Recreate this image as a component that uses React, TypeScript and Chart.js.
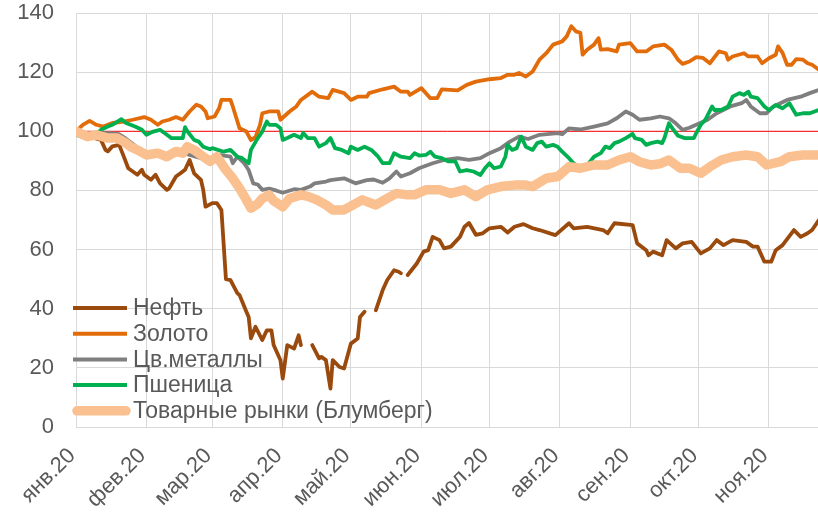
import React, { useEffect, useRef } from "react";
import { Chart, registerables } from "chart.js";

Chart.register(...registerables);

// Month starts (days since 1 Jan 2020) and tick labels
const monthStartDays = [0, 31, 60, 91, 121, 152, 182, 213, 244, 274, 305];
const monthLabels = ["янв.20", "фев.20", "мар.20", "апр.20", "май.20", "июн.20", "июл.20", "авг.20", "сен.20", "окт.20", "ноя.20"];
const xMaxDay = 326.6;
const yTicks = [0, 20, 40, 60, 80, 100, 120, 140];

const seriesNames = ["Нефть", "Золото", "Цв.металлы", "Пшеница", "Товарные рынки (Блумберг)"];

// Нефть (null = gap)
const oilDays = [0, 6, 11, 13, 14, 16, 19, 21, 23, 27, 29, 30, 33, 35, 37, 40, 41, 44, 46, 48, 50, 52, 55, 56, 57, 60, 62, 64, 66, 68, 71, 72, 75, 76, 77, 79, 82, 84, 86, 87, 90, 91, 93, 96, 98, 99, 102, 104, 107, 108, 110, 112, 113, 116, 118, 121, 124, 125, 127, 129, 132, 135, 137, 140, 142, 143, 145, 146, 150, 153, 155, 157, 160, 162, 165, 169, 171, 173, 176, 179, 182, 187, 190, 193, 197, 201, 204, 211, 217, 219, 225, 232, 234, 237, 245, 247, 251, 252, 254, 258, 260, 264, 267, 271, 275, 279, 282, 285, 289, 295, 298, 300, 303, 306, 308, 311, 316, 319, 322, 324, 327];
const oilValues = [100, 98.2, 97.1, 93.7, 93.2, 94.9, 95.4, 91.5, 87.5, 85.3, 87, 85.3, 83.6, 85.3, 82.4, 80.2, 80.7, 84.7, 85.8, 87, 90.3, 85.8, 83.6, 80.2, 74.5, 75.7, 75.7, 73.4, 50, 49.7, 45.3, 44.6, 39, 37.2, 30, 33.9, 29.4, 32.7, 32.7, 27.7, 22.6, 16.4, 27.7, 26.5, 31, 27.7, null, 27.7, 23.2, 23.7, 22.6, 13, 22.6, 20.3, 19.8, 28.2, 29.9, 37.2, 39, null, 39.5, 46.3, 49.7, 53, 52.5, 52, null, 51.4, 55.3, 59.3, 59.8, 64.3, 63.2, 60.4, 61, 64.3, 67.7, 69, 65, 65.5, 67.2, 67.7, 65.8, 67.7, 68.6, 67.2, 66.6, 64.9, 68.9, 67.2, 67.7, 66.6, 65.5, 68.9, 68.3, 62.1, 59.8, 58.1, 59.3, 58.1, 63.2, 60.4, 62.1, 62.6, 58.7, 60.4, 63.2, 61.5, 63.2, 62.6, 61, 61, 55.9, 55.9, 59.8, 61.5, 66.6, 64.3, 65.5, 66.6, 70];

// Золото
const goldDays = [0, 3, 6, 9, 12, 16, 21, 25, 30, 33, 36, 38, 41, 44, 47, 50, 53, 55, 57, 58, 61, 63, 64, 68, 69, 72, 75, 77, 79, 81, 82, 85, 89, 90, 94, 97, 99, 104, 107, 111, 113, 118, 121, 124, 128, 129, 135, 140, 143, 146, 147, 152, 156, 159, 161, 168, 172, 176, 182, 187, 190, 193, 195, 198, 201, 204, 207, 210, 214, 216, 218, 220, 222, 223, 225, 228, 230, 231, 234, 238, 239, 244, 247, 251, 254, 259, 262, 265, 267, 270, 273, 276, 279, 283, 286, 287, 289, 294, 296, 300, 302, 305, 308, 309, 311, 313, 315, 317, 320, 322, 324, 327];
const goldValues = [100, 102.2, 103.5, 102.2, 101.6, 102.8, 103.3, 103.9, 104.8, 103.9, 102.2, 103.3, 103.9, 104.8, 103.9, 106.7, 109, 108.4, 106.7, 104.4, 105, 107.8, 110.6, 110.6, 108.4, 101, 99.9, 97, 98, 102.2, 106.1, 106.7, 106.7, 103.9, 106.7, 108.4, 110.6, 113.4, 111.7, 111.2, 114, 112.9, 110.6, 111.7, 111.7, 112.9, 114.2, 115.1, 113.4, 113.4, 112.3, 114.6, 111.2, 111.2, 114.2, 113.8, 115.7, 116.8, 117.6, 118, 119.1, 119.1, 119.7, 118.5, 120.2, 124.2, 126.4, 129.3, 130.4, 132.1, 135.5, 133.8, 133.3, 125.9, 127.6, 129.3, 131.5, 127.6, 127.8, 127, 129.3, 129.8, 127, 127, 128.7, 129.3, 127.6, 124.2, 122.8, 123.6, 125.1, 124.8, 123, 127, 126.4, 124.2, 125.3, 126.4, 125.3, 125.3, 123, 124.7, 125.9, 128.7, 126.5, 122.5, 122.5, 124.4, 124.2, 123, 122.5, 120.8];

// Цв.металлы
const metalsDays = [0, 3, 6, 11, 15, 19, 22, 27, 31, 36, 40, 44, 46, 50, 55, 60, 63, 68, 69, 71, 74, 76, 78, 80, 82, 85, 88, 91, 96, 99, 103, 105, 110, 112, 118, 123, 128, 131, 135, 138, 141, 143, 147, 151, 157, 162, 168, 173, 178, 182, 187, 191, 195, 199, 204, 212, 214, 217, 222, 228, 234, 238, 242, 245, 248, 253, 257, 261, 264, 267, 270, 273, 278, 282, 288, 293, 295, 297, 301, 304, 307, 313, 319, 323, 327];
const metalsValues = [98.8, 98, 99.4, 99.4, 99.4, 99, 97.5, 94.5, 92.5, 92.5, 91.5, 93, 93.1, 92, 90.9, 90.9, 92, 91.4, 89.2, 91.4, 89.2, 86.9, 82.4, 82, 80.2, 80.6, 80, 79.2, 80.4, 80.2, 81.3, 82.4, 83, 83.5, 84.1, 82.4, 83.5, 83.7, 82.6, 84.1, 86.4, 84.7, 85.8, 87.5, 89.2, 90.3, 90.9, 90.3, 90.9, 92.6, 94.3, 96.5, 98.2, 97.4, 98.8, 99.4, 99, 101, 100.6, 101.6, 102.7, 104.4, 106.7, 105.6, 103.9, 104.4, 105, 104.4, 102.7, 100.5, 101.2, 102.2, 103.9, 106.1, 108.4, 109.5, 110.6, 108.4, 106.1, 106.1, 108.4, 110.6, 111.7, 112.9, 114];

// Пшеница
const wheatDays = [0, 5, 8, 11, 14, 16, 20, 22, 26, 29, 31, 34, 37, 40, 42, 47, 48, 49, 52, 54, 56, 59, 60, 65, 68, 71, 73, 76, 77, 80, 82, 84, 85, 88, 90, 91, 93, 96, 99, 100, 102, 105, 107, 110, 112, 114, 117, 120, 121, 124, 127, 130, 133, 135, 138, 140, 143, 147, 149, 151, 154, 156, 158, 161, 164, 167, 169, 172, 175, 178, 180, 182, 184, 187, 189, 190, 192, 194, 196, 198, 201, 203, 205, 207, 210, 212, 214, 217, 219, 222, 225, 228, 231, 233, 235, 237, 239, 242, 245, 246, 249, 251, 253, 256, 258, 259, 261, 263, 265, 268, 272, 273, 275, 277, 280, 281, 284, 287, 289, 292, 294, 296, 297, 300, 303, 305, 308, 311, 314, 317, 320, 323, 327];
const wheatValues = [98.8, 98.2, 98.4, 100.5, 101.6, 102.2, 104.1, 102.8, 101.6, 100.5, 98.8, 99.9, 100.5, 98.8, 97.7, 97.7, 101.4, 100, 97.1, 96.5, 94.8, 93.9, 94.3, 93.1, 93.7, 91.4, 91, 89.2, 93.7, 97.7, 99.9, 103.3, 102.2, 102.2, 101, 97.1, 97.7, 98.8, 97.7, 99.4, 97.7, 97.7, 94.8, 96, 97.7, 94.3, 93.7, 92.6, 94.8, 93.7, 94.8, 93.7, 91.4, 89.2, 89.2, 92.6, 91.4, 90.9, 92.6, 91.8, 92, 93.1, 91.4, 90.9, 89.8, 89.8, 86.4, 86.9, 86.4, 85.2, 87.5, 89.2, 87.5, 88.1, 91.4, 95.4, 93.7, 94.3, 98.2, 94.8, 93.7, 96, 96.5, 94.8, 95.4, 94.8, 93.1, 90.9, 89.2, 87.5, 88.5, 91.4, 92.6, 94.8, 94.3, 96, 96.5, 97.7, 99.1, 97.7, 97.1, 95.4, 96, 96.5, 96, 97.7, 102.7, 100.5, 98.5, 97.7, 97.7, 99.4, 102.2, 103.9, 108.4, 107.2, 107.2, 108.4, 111.7, 112.9, 112.3, 113.4, 111.7, 111.2, 108.4, 107.2, 108.9, 107.8, 109.5, 105.6, 106.1, 106.1, 107.2];

// Товарные рынки (Блумберг)
const bbgDays = [0, 5, 9, 14, 18, 21, 24, 27, 31, 36, 40, 44, 47, 49, 52, 56, 59, 62, 63, 66, 69, 72, 75, 77, 80, 82, 85, 87, 91, 94, 99, 102, 106, 110, 113, 118, 122, 126, 132, 137, 141, 146, 149, 154, 160, 165, 171, 176, 181, 187, 193, 198, 201, 207, 212, 217, 222, 228, 234, 239, 244, 248, 253, 257, 261, 266, 270, 275, 279, 284, 289, 295, 300, 304, 310, 314, 320, 327];
const bbgValues = [100, 98.2, 98.8, 97.7, 97.7, 96.5, 94.8, 93.7, 92, 92.6, 91.4, 93.2, 92.6, 94.8, 93.7, 91.4, 89.8, 91.4, 90.3, 86.9, 84.1, 80.7, 76.8, 74, 75.5, 77.3, 78.5, 76.5, 74.5, 77.3, 78.5, 78, 76.8, 75.1, 73.4, 73.4, 75.1, 76.8, 75.1, 77.3, 79, 78.5, 78.5, 80.2, 80.2, 79, 80.2, 77.9, 80.2, 81.3, 81.8, 81.8, 81.3, 84.1, 84.7, 88, 87.5, 88.6, 88.6, 90.3, 91.4, 89.7, 88.6, 89, 90.3, 87.5, 87.5, 85.8, 88, 90.3, 91.4, 92, 91.4, 88.6, 89.7, 91.4, 92, 92];

// Reference level
const refDays = [0, 327];
const refValues = [100, 100];

const colors = ["#9A4A0C", "#E36C0A", "#7F7F7F", "#00B050", "#FAC090"];
const widths = [3.8, 3.8, 3.8, 3.8, 9.5];

function toPoints(days: number[], vals: (number | null)[]) {
  return days.map((d, i) => ({ x: d, y: vals[i] }));
}

const FONT = '"Liberation Sans", Arial, sans-serif';

const legendPlugin = {
  id: "insideLegend",
  afterDraw(chart: any) {
    const ctx = chart.ctx;
    const x0 = 75;
    const x1 = 126;
    const textX = 133;
    const top = 308;
    const step = 25.7;
    ctx.save();
    seriesNames.forEach((name, i) => {
      const y = top + i * step;
      ctx.beginPath();
      ctx.strokeStyle = colors[i];
      ctx.lineWidth = i === 4 ? 9.5 : 4;
      ctx.lineCap = i === 4 ? "round" : "butt";
      ctx.moveTo(i === 4 ? x0 + 2 : x0 - 2, y);
      ctx.lineTo(i === 4 ? x1 : x1 + 1, y);
      ctx.stroke();
      ctx.fillStyle = "#595959";
      ctx.font = `23px ${FONT}`;
      ctx.textBaseline = "middle";
      ctx.textAlign = "left";
      ctx.fillText(name, textX, y + 1);
    });
    ctx.restore();
  },
};

export default function App() {
  const ref = useRef<HTMLCanvasElement | null>(null);
  useEffect(() => {
    document.body.style.margin = "0";
    const canvas = ref.current;
    if (!canvas) return;
    const seriesData = [
      toPoints(oilDays, oilValues),
      toPoints(goldDays, goldValues),
      toPoints(metalsDays, metalsValues),
      toPoints(wheatDays, wheatValues),
      toPoints(bbgDays, bbgValues),
    ];
    const datasets: any[] = [];
    // first dataset is drawn on top: reverse Excel order
    for (let i = 4; i >= 0; i--) {
      datasets.push({
        label: seriesNames[i],
        data: seriesData[i],
        borderColor: colors[i],
        backgroundColor: colors[i],
        borderWidth: widths[i],
        pointRadius: 0,
        tension: 0,
        spanGaps: false,
        borderJoinStyle: "round",
        borderCapStyle: "round",
        fill: false,
      });
    }
    datasets.push({
      label: "100",
      data: toPoints(refDays, refValues),
      borderColor: "#FF0000",
      borderWidth: 1,
      pointRadius: 0,
      fill: false,
    });

    const chart = new Chart(canvas, {
      type: "line",
      data: { datasets },
      plugins: [legendPlugin],
      options: {
        responsive: false,
        animation: false,
        layout: { padding: { top: 13, left: 0, right: 0, bottom: 0 } },
        plugins: {
          legend: { display: false },
          tooltip: { enabled: false },
          title: { display: false },
        },
        scales: {
          x: {
            type: "linear",
            min: 0,
            max: xMaxDay,
            afterBuildTicks: (scale: any) => {
              scale.ticks = monthStartDays.map((v) => ({ value: v }));
            },
            afterFit: (scale: any) => {
              scale.height = 88;
              scale.paddingLeft = 0;
              scale.paddingRight = 0;
            },
            grid: { color: "#D9D9D9", lineWidth: 1, drawTicks: false },
            border: { color: "#D9D9D9" },
            ticks: {
              autoSkip: false,
              maxRotation: 45,
              minRotation: 45,
              padding: 16,
              labelOffset: -4,
              color: "#595959",
              font: { family: FONT, size: 22 },
              callback: (v: any) => {
                const idx = monthStartDays.indexOf(Number(v));
                return idx >= 0 ? monthLabels[idx] : "";
              },
            },
          },
          y: {
            min: 0,
            max: 140,
            afterBuildTicks: (scale: any) => {
              scale.ticks = yTicks.map((v) => ({ value: v }));
            },
            afterFit: (scale: any) => {
              scale.width = 76;
              scale.paddingTop = 0;
              scale.paddingBottom = 0;
            },
            grid: { color: "#D9D9D9", lineWidth: 1, drawTicks: false },
            border: { color: "#D9D9D9" },
            ticks: {
              padding: 22,
              color: "#595959",
              font: { family: FONT, size: 22 },
            },
          },
        },
      },
    });
    return () => chart.destroy();
  }, []);
  return <canvas ref={ref} width={818} height={515} style={{ display: "block" }} />;
}
